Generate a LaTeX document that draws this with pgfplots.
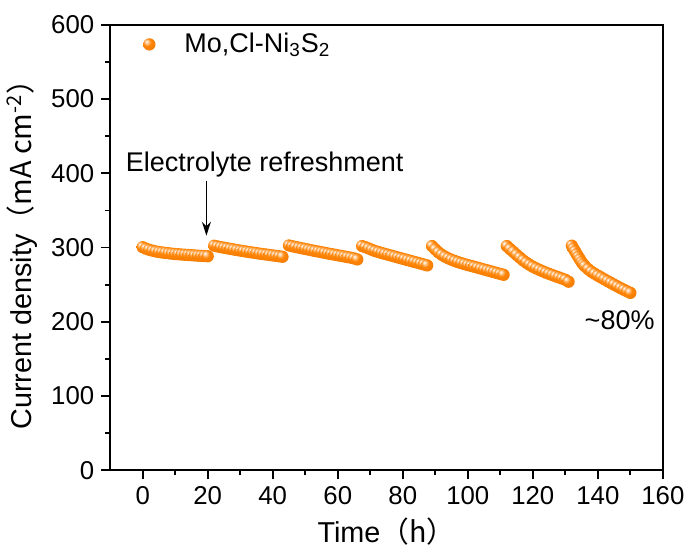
\documentclass[border=0pt]{standalone}
\usepackage{fontspec}
\setmainfont{Liberation Sans}
\newfontfamily\cjk{Noto Sans CJK SC}
\usepackage{pgfplots}
\pgfplotsset{compat=1.18}
\usetikzlibrary{arrows.meta}
\definecolor{org}{RGB}{255,132,5}
\pgfdeclareradialshading{obsh}{\pgfqpoint{-12bp}{12bp}}{color(0bp)=(white); color(7bp)=(org!45!white); color(16bp)=(org); color(32bp)=(org!95!black); color(50bp)=(org!87!black); color(70bp)=(org!80!black)}
\pgfdeclareplotmark{oball}{\pgfpathcircle{\pgfpointorigin}{\pgfplotmarksize}\pgfshadepath{obsh}{0}\pgfusepath{discard}}
\pgfplotsset{myleg/.style={legend image code/.code={\path[draw=none,fill=none] (0cm,-0.05pt) rectangle (0.85cm,0.05pt); \draw[mark repeat=2,mark phase=2,##1] plot coordinates {(0cm,0cm)(0.3cm,0cm)(0.6cm,0cm)};}}}
\begin{document}
\begin{tikzpicture}
\begin{axis}[
 name=ax,
 scale only axis,
 width=278.5pt, height=224.5pt,
 xmin=-10, xmax=160, ymin=0, ymax=600,
 xtick={0,20,...,160}, ytick={0,100,...,600},
 minor x tick num=1, minor y tick num=1,
 tick align=outside, tick pos=left,
 major tick length=4.5pt, minor tick length=2.5pt,
 axis line style={line width=1pt},
 every tick/.style={line width=0.9pt, black},
 /pgf/number format/assume math mode=true,
 ticklabel style={font=\fontsize{13}{15}\selectfont},
 xlabel={Time\cjk{（}h\cjk{）}},
 ylabel={Current density\cjk{（}mA cm\textsuperscript{-2}\cjk{）}},
 label style={font=\fontsize{14.5}{17}\selectfont},
 legend style={at={(rel axis cs:0,1)},anchor=north west,xshift=8pt,draw=none,fill=none,font=\fontsize{13.6}{16}\selectfont},
 legend cell align=left,
]
\addplot[only marks, mark=oball, mark size=3.1pt, myleg] table {
t v
0 300.5
1 298.5
2 297
3 295.8
4 294.8
5 294.0
6 293.4
7 292.8
8 292.3
9 291.8
10 291.3
11 291.0
12 290.6
13 290.3
14 290.0
15 289.7
16 289.4
17 289.1
18 288.8
19 288.6
20 288.3
22 302.5
23 301.5
24 300.6
25 299.8
26 299.0
27 298.2
28 297.4
29 296.6
30 295.9
31 295.2
32 294.5
33 293.8
34 293.1
35 292.5
36 291.8
37 291.2
38 290.6
39 290.0
40 289.4
41 288.8
42 288.2
43 287.6
45 302.8
46 301.8
47 300.8
48 299.9
49 299.0
50 298.1
51 297.2
52 296.3
53 295.4
54 294.6
55 293.7
56 292.9
57 292.0
58 291.2
59 290.4
60 289.6
61 288.8
62 288.0
63 287.2
64 286.4
65 285.4
66 284.0
67.5 302
68.5 300.5
69.5 298.8
70.5 297
71.5 295.3
72.5 294
73.5 292.7
74.5 291.5
75.5 290.3
76.5 289.1
77.5 287.9
78.5 286.7
79.5 285.5
80.5 284.3
81.5 283.1
82.5 281.9
83.5 280.7
84.5 279.6
85.5 278.4
86.5 277.2
87.5 276
89 302
90 297.5
91 293.5
92 290.3
93 287.7
94 285.5
95 283.6
96 281.9
97 280.4
98 279
99 277.7
100 276.5
101 275.3
102 274.1
103 272.9
104 271.7
105 270.5
106 269.3
107 268.1
108 266.9
109 265.7
110 264.5
111 263.3
112 302
113 298
114 294.2
115 290.3
116 286.5
117 282.8
118 279.6
119 276.8
120 274.2
121 272
122 270
123 268.1
124 266.3
125 264.6
126 263
127 261.4
128 259.8
129 258.2
130 256.6
131 254
132 302.5
132.5 298.5
133 295
133.5 291
134 287.5
134.5 284
135 280.5
135.5 277.5
136 275
137 271
138 267.5
139 264.8
140 262.2
141 259.8
142 257.3
143 254.8
144 252.4
145 250
146 247.7
147 245.4
148 243.2
149 241
150 239
};
\addlegendentry{Mo,Cl-Ni\textsubscript{3}S\textsubscript{2}}
\node[anchor=base west, inner sep=0pt, font=\fontsize{13.6}{16}\selectfont] at (axis cs:-5.3,403) {Electrolyte refreshment};
\draw[line width=0.8pt, -{Stealth[length=7pt,width=4.5pt]}] (axis cs:19.6,389) -- (axis cs:19.6,316);
\node[anchor=base, inner sep=0pt, font=\fontsize{13.6}{16}\selectfont] at (axis cs:146.7,190) {\textasciitilde80\%};
\end{axis}
\path (ax.south west) ++(-55pt,-35pt) coordinate (bl);
\path (ax.north east) ++(12pt,12.5pt) coordinate (tr);
\path (bl) rectangle (tr);
\end{tikzpicture}
\end{document}
